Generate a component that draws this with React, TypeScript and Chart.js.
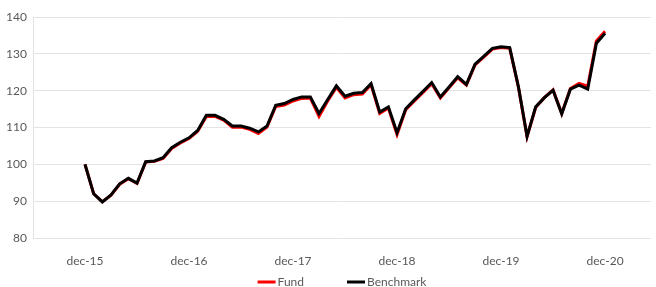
import React, { useEffect, useRef } from "react";
import { Chart, registerables } from "chart.js";

Chart.register(...registerables);

const xTickLabels = ["dec-15", "dec-16", "dec-17", "dec-18", "dec-19", "dec-20"];
const xTickPositions = [0, 12, 24, 36, 48, 60];

const fundValues = [
  100, 92.0, 89.8, 91.6, 94.6, 96.1, 94.8, 100.6, 100.8, 101.6, 104.3, 105.8,
  107.0, 109.0, 113.0, 113.0, 112.0, 110.1, 110.1, 109.5, 108.4, 110.1, 115.7, 116.1,
  117.2, 117.9, 118.0, 113.0, 117.2, 120.9, 118.0, 118.9, 119.1, 121.6, 113.8, 115.3,
  108.1, 114.8, 117.2, 119.5, 121.9, 118.0, 120.8, 123.5, 121.5, 127.0, 129.1, 131.3,
  131.7, 131.5, 121.0, 107.5, 115.5, 118.1, 120.2, 113.8, 120.6, 122.0, 121.2, 133.5,
  136.1,
];

const benchmarkValues = [
  100, 92.0, 89.8, 91.7, 94.7, 96.2, 94.9, 100.7, 100.9, 101.8, 104.5, 106.0,
  107.2, 109.2, 113.3, 113.3, 112.2, 110.4, 110.4, 109.8, 108.8, 110.4, 116.0, 116.5,
  117.6, 118.3, 118.3, 113.8, 117.6, 121.3, 118.5, 119.3, 119.5, 121.9, 114.2, 115.6,
  108.6, 115.1, 117.5, 119.8, 122.2, 118.3, 121.0, 123.8, 121.7, 127.2, 129.3, 131.5,
  131.9, 131.7, 121.1, 107.6, 115.6, 118.1, 120.1, 113.7, 120.4, 121.5, 120.4, 132.9,
  135.6,
];

const seriesNames = ["Fund", "Benchmark"];
const seriesColors = ["#ff0000", "#000000"];
const seriesOrder = [1, 0];

const FONT = "Lato, 'Open Sans', sans-serif";
const TEXT_COLOR = "#595959";

const legendPlugin = {
  id: "customLegend",
  afterDraw(chart: any) {
    const { ctx, chartArea } = chart;
    const datasets = chart.data.datasets;
    ctx.save();
    ctx.font = `12px ${FONT}`;
    ctx.textBaseline = "middle";
    const lineW = 18;
    const textGap = 2;
    const itemGap = 43;
    const widths = datasets.map(
      (d: any) => lineW + textGap + ctx.measureText(d.label).width
    );
    const total =
      widths.reduce((a: number, b: number) => a + b, 0) + itemGap * (datasets.length - 1);
    let x = (chartArea.left + chartArea.right) / 2 - total / 2;
    const y = 282;
    datasets.forEach((d: any, i: number) => {
      ctx.fillStyle = d.borderColor;
      ctx.fillRect(x, y - 1.5, lineW, 3);
      ctx.fillStyle = TEXT_COLOR;
      ctx.textAlign = "left";
      ctx.fillText(d.label, x + lineW + textGap, y);
      x += widths[i] + itemGap;
    });
    ctx.restore();
  },
};

export default function App() {
  const canvasRef = useRef<HTMLCanvasElement | null>(null);

  useEffect(() => {
    if (!canvasRef.current) return;
    const series = [fundValues, benchmarkValues];
    const chart = new Chart(canvasRef.current, {
      type: "line",
      data: {
        datasets: series.map((vals, si) => ({
          label: seriesNames[si],
          data: vals.map((v, i) => ({ x: i, y: v })),
          borderColor: seriesColors[si],
          backgroundColor: seriesColors[si],
          borderWidth: 3,
          pointRadius: 0,
          tension: 0,
          fill: false,
          order: seriesOrder[si],
        })),
      },
      options: {
        responsive: true,
        maintainAspectRatio: false,
        animation: false,
        layout: { padding: { top: 17, right: 5, bottom: 19, left: 0 } },
        plugins: {
          legend: { display: false },
          tooltip: { enabled: false },
        },
        scales: {
          x: {
            type: "linear",
            min: -6,
            max: 65.3,
            grid: { display: false },
            border: { display: false },
            afterBuildTicks: (scale: any) => {
              scale.ticks = xTickPositions.map((v) => ({ value: v }));
            },
            afterFit: (scale: any) => {
              scale.height = 30;
            },
            ticks: {
              autoSkip: false,
              maxRotation: 0,
              padding: 8,
              color: TEXT_COLOR,
              font: { family: FONT, size: 12 },
              callback: (value: any) => {
                const idx = xTickPositions.indexOf(Number(value));
                return idx >= 0 ? xTickLabels[idx] : "";
              },
            },
          },
          y: {
            min: 80,
            max: 140,
            afterFit: (scale: any) => {
              scale.width = 33;
            },
            grid: { color: "#e3e3e3", lineWidth: 1, drawTicks: false },
            border: { display: true, color: "#e3e3e3" },
            ticks: {
              stepSize: 10,
              padding: 6,
              color: TEXT_COLOR,
              font: { family: FONT, size: 12 },
            },
          },
        },
      },
      plugins: [legendPlugin],
    });
    return () => chart.destroy();
  }, []);

  return (
    <div style={{ position: "absolute", left: 0, top: 0, width: 656, height: 287 }}>
      <canvas ref={canvasRef} />
    </div>
  );
}
